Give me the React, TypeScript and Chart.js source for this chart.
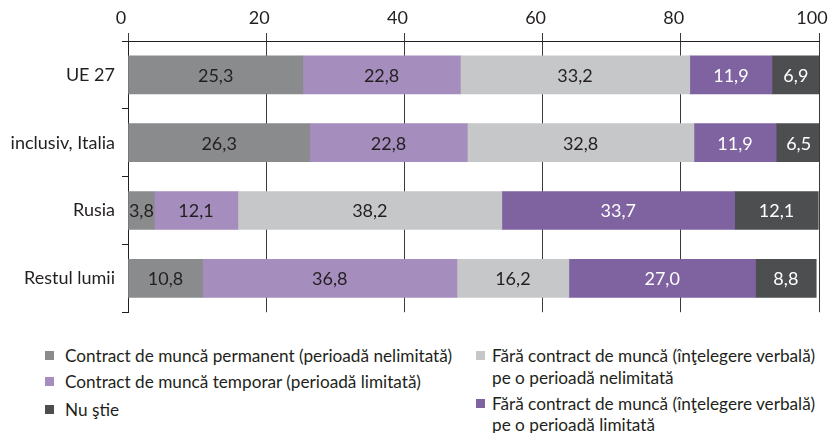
import React, { useEffect, useRef } from "react";
import { Chart, registerables } from "chart.js";

Chart.register(...registerables);

const categories = ["UE 27", "inclusiv, Italia", "Rusia", "Restul lumii"];
const seriesNames = [
  "Contract de muncă permanent (perioadă nelimitată)",
  "Contract de muncă temporar (perioadă limitată)",
  "Fără contract de muncă (înţelegere verbală) pe o perioadă nelimitată",
  "Fără contract de muncă (înţelegere verbală) pe o perioadă limitată",
  "Nu ştie",
];
const permanent = [25.3, 26.3, 3.8, 10.8];
const temporar = [22.8, 22.8, 12.1, 36.8];
const verbalNelimitata = [33.2, 32.8, 38.2, 16.2];
const verbalLimitata = [11.9, 11.9, 33.7, 27.0];
const nuStie = [6.9, 6.5, 12.1, 8.8];
const xTicks = [0, 20, 40, 60, 80, 100];

const colors = ["#8a8b8d", "#a58dbd", "#c6c7c9", "#7f62a0", "#4d4e50"];
const labelColors = ["#231f20", "#231f20", "#231f20", "#ffffff", "#ffffff"];
const FONT = "Lato, 'Open Sans', sans-serif";
const TEXT = "#231f20";

const labelPlugin = {
  id: "segLabels",
  afterDatasetsDraw(chart: any) {
    const ctx = chart.ctx;
    ctx.save();
    ctx.font = `18px ${FONT}`;
    ctx.textAlign = "center";
    ctx.textBaseline = "middle";
    chart.data.datasets.forEach((ds: any, di: number) => {
      const meta = chart.getDatasetMeta(di);
      meta.data.forEach((el: any, i: number) => {
        const v = ds.data[i];
        const cx = (el.x + el.base) / 2;
        ctx.fillStyle = labelColors[di];
        ctx.fillText(v.toFixed(1).replace(".", ","), cx, el.y + 1);
      });
    });
    ctx.restore();
  },
};

export default function App() {
  const ref = useRef<HTMLCanvasElement>(null);
  useEffect(() => {
    if (!ref.current) return;
    const values = [permanent, temporar, verbalNelimitata, verbalLimitata, nuStie];
    const chart = new Chart(ref.current, {
      type: "bar",
      data: {
        labels: categories,
        datasets: values.map((d, i) => ({
          label: seriesNames[i],
          data: d,
          backgroundColor: colors[i],
          borderWidth: 0,
          barThickness: 38,
        })),
      },
      options: {
        indexAxis: "y",
        animation: false,
        responsive: false,
        maintainAspectRatio: false,
        layout: { padding: { top: 0, right: 10, left: 0, bottom: 10 } },
        plugins: { legend: { display: false }, tooltip: { enabled: false } },
        scales: {
          x: {
            position: "top",
            stacked: true,
            min: 0,
            max: 100,
            afterBuildTicks(scale: any) {
              scale.ticks = xTicks.map((v) => ({ value: v }));
            },
            afterFit(scale: any) {
              scale.height = 41;
              scale.paddingRight = 0;
              scale.paddingLeft = 0;
            },
            grid: {
              color: "#3a3a3a",
              lineWidth: 1,
              tickLength: 8,
              drawOnChartArea: true,
            },
            border: { display: true, color: "#231f20", width: 1 },
            ticks: {
              color: TEXT,
              font: { family: FONT, size: 18 },
              padding: 4,
              maxRotation: 0,
              labelOffset: -7,
            },
          },
          y: {
            stacked: true,
            afterFit(scale: any) {
              scale.width = 128;
            },
            grid: {
              display: true,
              drawOnChartArea: false,
              color: "#231f20",
              tickLength: 6,
              offset: true,
            },
            border: { display: true, color: "#231f20", width: 1 },
            ticks: {
              color: TEXT,
              font: { family: FONT, size: 18 },
              padding: 7,
            },
          },
        },
      },
      plugins: [labelPlugin],
    } as any);
    return () => chart.destroy();
  }, []);

  const sq = (c: string, off: number) => ({
    position: "absolute" as const,
    left: -off,
    top: 5,
    width: 9,
    height: 9,
    background: c,
  });
  const item = (top: number, left: number, color: string | null, text: string, off = 20) => (
    <div
      style={{
        position: "absolute",
        top,
        left,
        whiteSpace: "nowrap",
        fontFamily: FONT,
        fontSize: 17.2,
        color: TEXT,
        lineHeight: "20px",
      }}
    >
      {color ? <span style={sq(color, off)} /> : null}
      {text}
    </div>
  );

  return (
    <div style={{ position: "absolute", left: 0, top: 0, width: 829, height: 433, background: "#fff" }}>
      <canvas ref={ref} width={829} height={330} style={{ display: "block" }} />
      {item(346, 65, colors[0], "Contract de muncă permanent (perioadă nelimitată)")}
      {item(372, 65, colors[1], "Contract de muncă temporar (perioadă limitată)")}
      {item(400, 65, colors[4], "Nu ştie")}
      {item(346, 492, colors[2], "Fără contract de muncă (înţelegere verbală)", 16)}
      {item(368, 492, null, "pe o perioadă nelimitată")}
      {item(394, 492, colors[3], "Fără contract de muncă (înţelegere verbală)", 16)}
      {item(415, 492, null, "pe o perioadă limitată")}
    </div>
  );
}
